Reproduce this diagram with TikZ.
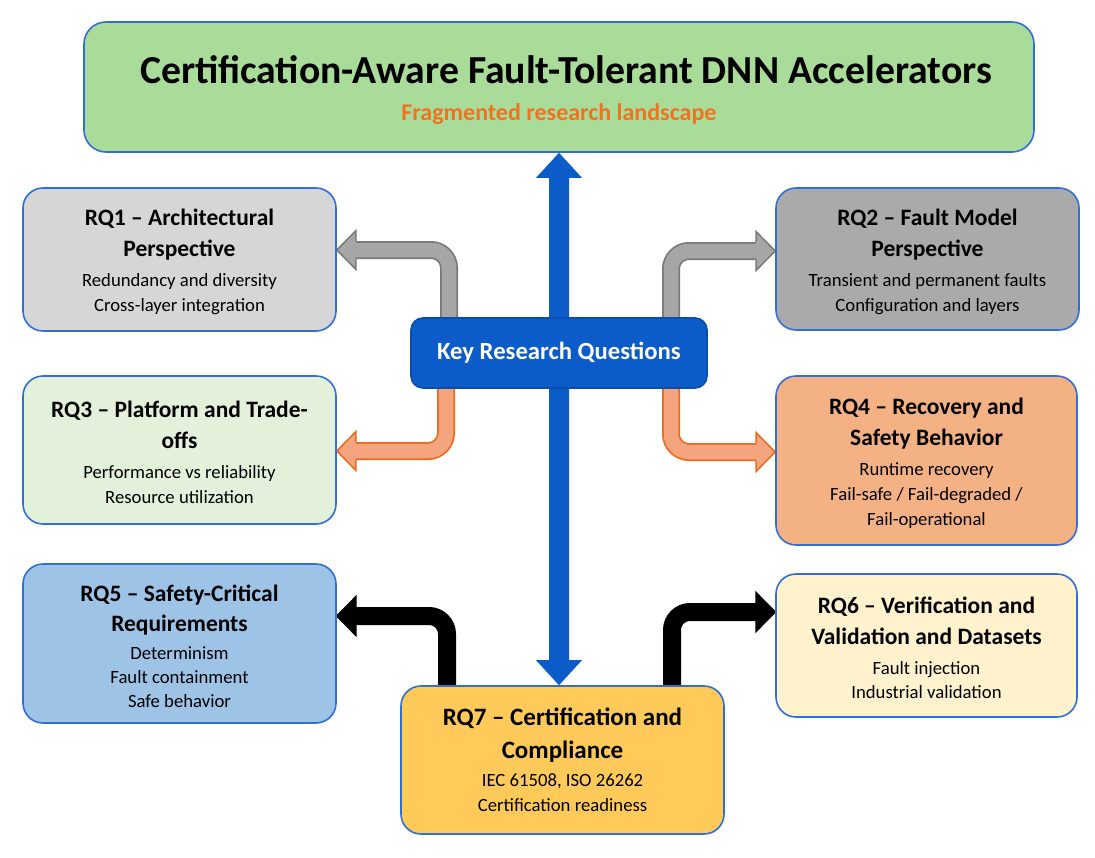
\documentclass[tikz,border=0pt]{standalone}
\usepackage{fontspec}
\setmainfont{Carlito}
\usetikzlibrary{calc}
\pgfdeclarelayer{canvas}
\pgfdeclarelayer{background}
\pgfsetlayers{canvas,background,main}
\definecolor{bordblue}{HTML}{2F6FD6}
\definecolor{keyblue}{HTML}{0B5CC8}
\definecolor{titlegreen}{HTML}{A9DC98}
\definecolor{suborange}{HTML}{EE7424}
\definecolor{rqonegray}{HTML}{D6D6D6}
\definecolor{rqtwogray}{HTML}{AAAAAA}
\definecolor{rqthree}{HTML}{E3F1DA}
\definecolor{rqfour}{HTML}{F4B183}
\definecolor{rqfive}{HTML}{9DC3E6}
\definecolor{rqsix}{HTML}{FFF2CC}
\definecolor{rqseven}{HTML}{FFCA5A}
\definecolor{arrgrayfill}{HTML}{A6A6A6}
\definecolor{arrgraydraw}{HTML}{7A7A7A}
\definecolor{arrorfill}{HTML}{F4A57E}
\definecolor{arrordraw}{HTML}{EE6A1F}
\newcommand\hfont{\fontsize{23.5}{31}\selectfont\bfseries}
\newcommand\hbigfont{\fontsize{25}{33}\selectfont\bfseries}
\newcommand\topstrut{\rule{0pt}{22pt}}
% block arrow: #1 start, #2 tip, #3 fill, #4 draw, #5 shaft end offset from tip (signed), #6 head length (signed)
\newcommand\blockarrow[6]{%
  \draw[line width=18pt, color=#4, rounded corners=18pt] (#1) |- ([xshift=#5]#2);
  \draw[line width=14.5pt, color=#3, rounded corners=18pt] (#1) |- ([xshift=#5]#2);
  \filldraw[fill=#3, draw=#4, line width=1.5pt, line join=miter]
    ([shift={(#6,-8.8)}]#2) -- ++(0,-10.5) -- (#2) -- ++(#6,19.3) -- ++(0,-10.5);
}
\begin{document}
\begin{tikzpicture}[x=1pt,y=-1pt,
  box/.style={draw=bordblue, line width=1.6pt, rounded corners=20pt, align=center,
    inner sep=0pt, font=\fontsize{18.7}{25}\selectfont},
]
\begin{pgfonlayer}{canvas}
\useasboundingbox[fill=white] (0,0) rectangle (1095,857);
\end{pgfonlayer}

\node[box, fill=titlegreen, rounded corners=22pt, minimum width=950pt, minimum height=130pt] (title) at (559,87) {};
\node[font=\fontsize{39.7}{42}\selectfont\bfseries, inner sep=0pt] (titletext) at (566,70)
  {Certification-Aware Fault-Tolerant DNN Accelerators};
\node[font=\fontsize{24}{26}\selectfont\bfseries, text=suborange, inner sep=0pt] (subtitle) at (559,114)
  {Fragmented research landscape};

\node[box, fill=rqonegray, minimum width=313pt, minimum height=143pt] (rq1) at (179.5,259.5)
  {{\hfont\topstrut RQ1 -- Architectural}\\[6pt]{\hfont Perspective}\\[5pt]Redundancy and diversity\\Cross-layer integration};
\node[box, fill=rqtwogray, minimum width=303pt, minimum height=142pt] (rq2) at (927.5,259)
  {{\hfont\topstrut RQ2 -- Fault Model}\\[6pt]{\hfont Perspective}\\[5pt]Transient and permanent faults\\Configuration and layers};
\node[box, fill=rqthree, minimum width=313pt, minimum height=148pt] (rq3) at (179.5,450)
  {{\hfont\topstrut RQ3 -- Platform and Trade-}\\[6pt]{\hfont offs}\\[5pt]Performance vs reliability\\Resource utilization};
\node[box, fill=rqfour, minimum width=301pt, minimum height=169pt] (rq4) at (926.5,460.5)
  {{\hfont\topstrut RQ4 -- Recovery and}\\[6pt]{\hfont Safety Behavior}\\[5pt]Runtime recovery\\Fail-safe / Fail-degraded /\\Fail-operational};
\node[box, fill=rqfive, minimum width=313pt, minimum height=159pt] (rq5) at (179.5,643.5)
  {{\hfont\topstrut RQ5 -- Safety-Critical}\\[5pt]{\hfont Requirements}\\[3.5pt]Determinism\\[-1pt]Fault containment\\[-1pt]Safe behavior};
\node[box, fill=rqsix, minimum width=301pt, minimum height=143pt] (rq6) at (926.5,645.5)
  {{\hfont\topstrut RQ6 -- Verification and}\\[6pt]{\hfont Validation and Datasets}\\[5pt]Fault injection\\[-1pt]Industrial validation};
\node[box, fill=rqseven, minimum width=323pt, minimum height=148pt] (rq7) at (562.5,760)
  {{\hbigfont RQ7 -- Certification and}\\[8pt]{\hbigfont Compliance}\\[3pt]IEC 61508, ISO 26262\\Certification readiness};
\node[box, fill=keyblue, draw=keyblue!85!black, rounded corners=12pt, minimum width=296pt, minimum height=70pt,
  text=white, font=\fontsize{24.7}{28}\selectfont\bfseries] (key) at (559,353) {Key Research Questions};

\begin{pgfonlayer}{background}
  % central double-headed arrow
  \coordinate (T) at (title.south -| 559,0);
  \coordinate (B) at (rq7.north -| 559,0);
  \fill[keyblue] (T) -- ++(23,25) -- ++(-13,0) -- ($(B)+(10,-25)$) -- ++(13,0) -- (B)
     -- ++(-23,-25) -- ++(13,0) -- ($(T)+(-10,25)$) -- ++(-13,0) -- cycle;
  % gray arrows
  \blockarrow{key.center -| 449,0}{rq1.east |- 0,250}{arrgrayfill}{arrgraydraw}{15}{19}
  \blockarrow{key.center -| 671,0}{rq2.west |- 0,251}{arrgrayfill}{arrgraydraw}{-15}{-19}
  % orange arrows
  \blockarrow{key.center -| 446,0}{rq3.east |- 0,451}{arrorfill}{arrordraw}{15}{19}
  \blockarrow{key.center -| 671,0}{rq4.west |- 0,452}{arrorfill}{arrordraw}{-15}{-19}
  % black arrows
  \blockarrow{rq7.center -| 447,0}{rq5.east |- 0,616}{black}{black}{15}{19}
  \blockarrow{rq7.center -| 672,0}{rq6.west |- 0,612}{black}{black}{-15}{-19}
\end{pgfonlayer}
\end{tikzpicture}
\end{document}
